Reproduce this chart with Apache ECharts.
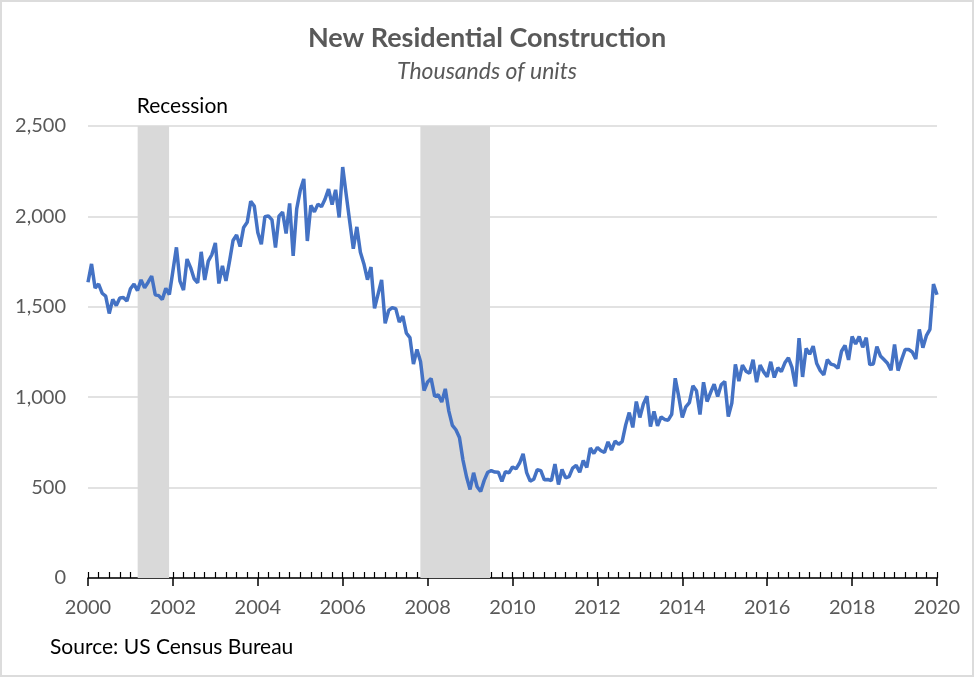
<!DOCTYPE html>
<html><head><meta charset="utf-8">
<script src="https://cdn.jsdelivr.net/npm/echarts@6/dist/echarts.min.js"></script>
<style>html,body{margin:0;padding:0;background:#fff}
#wrap{position:relative;width:974px;height:677px}
#c{width:974px;height:677px}
#frame{position:absolute;left:0;top:0;width:974px;height:677px;box-sizing:border-box;border:2px solid #dcdcdc;pointer-events:none}</style>
</head><body><div id="wrap"><div id="c"></div><div id="frame"></div></div><script>
// Monthly housing starts, thousands of units (SAAR)
const y2000=[1636,1737,1604,1626,1575,1559,1463,1541,1507,1549,1551,1532];
const y2001=[1600,1625,1590,1649,1605,1636,1670,1567,1562,1540,1602,1568];
const y2002=[1698,1829,1642,1592,1764,1717,1655,1633,1804,1648,1753,1788];
const y2003=[1853,1629,1726,1643,1751,1867,1897,1833,1939,1967,2083,2057];
const y2004=[1911,1846,1998,2003,1981,1828,2002,2024,1905,2072,1782,2042];
const y2005=[2144,2207,1864,2061,2025,2068,2054,2095,2151,2065,2147,1994];
const y2006=[2273,2119,1969,1821,1942,1802,1737,1650,1720,1491,1570,1649];
const y2007=[1409,1480,1495,1490,1415,1448,1354,1330,1183,1264,1197,1037];
const y2008=[1084,1103,1005,1013,973,1046,923,844,820,777,652,560];
const y2009=[490,582,505,478,540,585,594,586,585,534,588,581];
const y2010=[614,604,636,687,583,536,546,599,594,543,545,539];
const y2011=[630,517,600,554,561,608,623,585,650,611,719,689];
const y2012=[722,704,695,753,708,757,740,754,847,915,833,976];
const y2013=[888,962,1005,838,922,842,891,877,873,905,1105,1003];
const y2014=[888,947,970,1063,1036,904,1083,976,1026,1072,1004,1069];
const y2015=[1087,893,967,1181,1089,1178,1144,1132,1207,1083,1178,1140];
const y2016=[1113,1196,1109,1163,1141,1190,1218,1165,1059,1327,1112,1270];
const y2017=[1238,1282,1186,1147,1124,1208,1183,1177,1160,1254,1286,1206];
const y2018=[1336,1294,1336,1276,1329,1180,1184,1280,1228,1208,1188,1149];
const y2019=[1291,1147,1208,1264,1264,1250,1211,1375,1274,1340,1375,1626];
const y2020=[1567];
const years=[y2000,y2001,y2002,y2003,y2004,y2005,y2006,y2007,y2008,y2009,y2010,y2011,y2012,y2013,y2014,y2015,y2016,y2017,y2018,y2019,y2020];
const firstYear=2000;
// Recession periods as fractional years
const recessions=[[2001.17,2001.91],[2007.83,2009.47]];
const yTicks=[0,500,1000,1500,2000,2500];
const xLabelYears=[2000,2002,2004,2006,2008,2010,2012,2014,2016,2018,2020];

const seriesData=[];
years.forEach((arr,yi)=>arr.forEach((v,m)=>seriesData.push([firstYear+yi+m/12,v])));

const FONT='Lato';
const chart=echarts.init(document.getElementById('c'));
chart.setOption({
  animation:false,
  textStyle:{fontFamily:FONT},
  title:{
    text:'New Residential Construction',
    subtext:'Thousands of units',
    left:'center', top:20, itemGap:8,
    textStyle:{fontFamily:FONT,fontSize:27,fontWeight:'bold',color:'#595959'},
    subtextStyle:{fontFamily:FONT,fontSize:23,fontStyle:'italic',color:'#595959'}
  },
  grid:{left:88,right:37,top:126,bottom:99,containLabel:false},
  xAxis:[{
    type:'value',min:xLabelYears[0],max:xLabelYears[xLabelYears.length-1],interval:2,
    axisLine:{show:true,onZero:false,lineStyle:{color:'#000',width:1.5}},
    axisTick:{show:true,inside:false,length:8,lineStyle:{color:'#000',width:1.5}},
    axisLabel:{formatter:v=>String(v),margin:20,fontSize:20,color:'#595959',fontFamily:FONT},
    splitLine:{show:false}
  },{
    type:'value',min:xLabelYears[0],max:xLabelYears[xLabelYears.length-1],interval:0.25,position:'bottom',
    axisLine:{show:false},
    axisTick:{show:true,inside:true,length:6,lineStyle:{color:'#000',width:1.2}},
    axisLabel:{show:false},
    splitLine:{show:false}
  }],
  yAxis:{
    type:'value',min:yTicks[0],max:yTicks[yTicks.length-1],interval:500,
    axisLine:{show:false},axisTick:{show:false},
    axisLabel:{formatter:v=>v.toLocaleString('en-US'),margin:22,fontSize:20,color:'#595959',fontFamily:FONT},
    splitLine:{lineStyle:{color:'#d9d9d9',width:1.5}}
  },
  series:[{
    type:'line',xAxisIndex:0,data:seriesData,showSymbol:false,symbol:'none',
    lineStyle:{color:'#4472C4',width:3.5},
    z:3,
    markArea:{
      silent:true,
      itemStyle:{color:'#d9d9d9'},
      label:{show:false},
      data:recessions.map((r,i)=>[
        {xAxis:r[0],name:i===0?'Recession':'',label:{show:i===0,position:[-1,-9],align:'left',verticalAlign:'bottom',fontSize:21,color:'#000',fontFamily:FONT}},
        {xAxis:r[1]}
      ])
    }
  }],
  graphic:[{
    type:'text',left:50,top:637,
    style:{text:'Source: US Census Bureau',fontSize:21,fill:'#000',fontFamily:FONT}
  }]
});
</script></body></html>
